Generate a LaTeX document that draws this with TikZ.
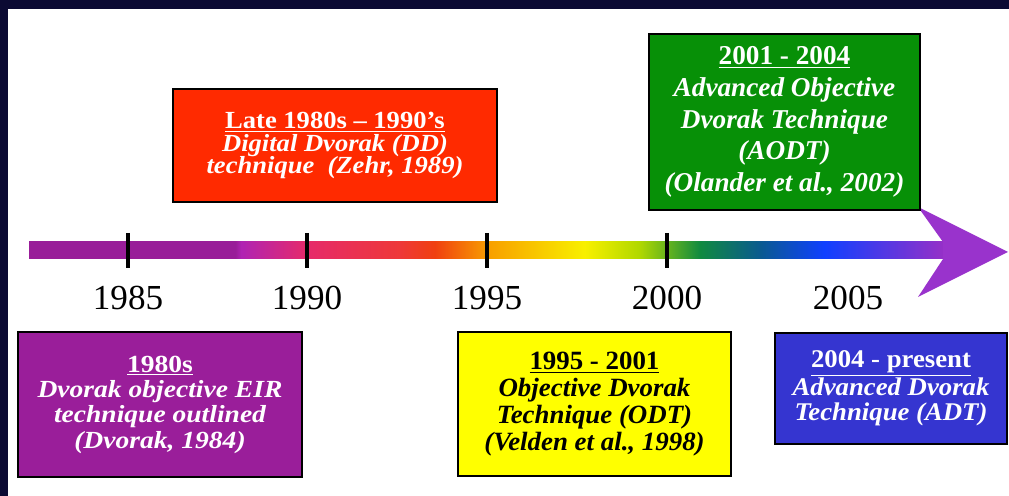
\documentclass[tikz,border=0pt]{standalone}
\usepackage{fontspec}
\setmainfont{Liberation Serif}

\definecolor{frame}{HTML}{0B0A33}
\definecolor{eirpurple}{HTML}{9A1E9A}
\definecolor{ddred}{HTML}{FF2A00}
\definecolor{odtyellow}{HTML}{FFFF00}
\definecolor{aodtgreen}{HTML}{079007}
\definecolor{adtblue}{HTML}{3535D0}
\definecolor{headpurple}{HTML}{9933CC}

\definecolor{r1}{HTML}{991D99}
\definecolor{r2}{HTML}{B023B3}
\definecolor{r3}{HTML}{E62A6A}
\definecolor{r4}{HTML}{EE3838}
\definecolor{r5}{HTML}{F04010}
\definecolor{r6}{HTML}{F8A000}
\definecolor{r7}{HTML}{F8F000}
\definecolor{r8}{HTML}{B0D800}
\definecolor{r9}{HTML}{108A40}
\definecolor{r10}{HTML}{0A5A90}
\definecolor{r11}{HTML}{1040FF}
\definecolor{r12}{HTML}{9530C8}

\pgfdeclarehorizontalshading{rainbow}{100bp}{color(0bp)=(r1); color(25bp)=(r1);
	color(36.3bp)=(r1); color(36.6bp)=(r2); color(40.2bp)=(r3); color(45.3bp)=(r4);
	color(47.2bp)=(r5); color(50.2bp)=(r6); color(55.4bp)=(r7); color(58.4bp)=(r8);
	color(61.7bp)=(r9); color(65bp)=(r10); color(68.5bp)=(r11); color(75bp)=(r12);
	color(100bp)=(r12)}

\begin{document}
\begin{tikzpicture}[
		x = 0.02cm, y = -0.02cm,
		bx/.style  = {draw=black, line width=1.5pt, align=center, inner sep=0pt,
			font=\bfseries\itshape\fontsize{14}{14.2}\selectfont},
		wide/.style args = {#1/#2/#3}{font=\bfseries\itshape\fontsize{#1}{#2}\selectfont\addfontfeatures{FakeStretch=#3}},
		yr/.style  = {font=\fontsize{20}{24}\selectfont},
		tk/.style  = {line width=2.2pt}
		]
		\useasboundingbox (0,0) rectangle (1009,496);
		\fill[frame] (0,0) rectangle (1009,496);
		\fill[white] (8,9) rectangle (1009,496);
		
		% time line
		\coordinate (start) at (29,250);
		\coordinate (tip)   at (1008,252);
		\shade[shading=rainbow] (29,242) rectangle (943,259);
		\fill[headpurple] (943,242) -- (918,207) -- (tip) -- (918,297) -- (943,259) -- cycle;
		
		\foreach \yy/\xx in {1985/128, 1990/307, 1995/487, 2000/667} {
			\coordinate (t\yy) at (\xx,250);
			\draw[tk] (t\yy) ++(0,-17) -- ++(0,35);
		}
		\foreach \yy/\xx in {1985/128, 1990/307, 1995/487, 2000/667, 2005/848}
			\node[yr] (y\yy) at (\xx,298) {\yy};
		
		% boxes
		\node[bx, wide=14/13/1.08, fill=ddred, text=white, minimum width=6.48cm, minimum height=2.26cm]
			(dd) at (335,145.5)
			{\textup{\underline{Late 1980s -- 1990’s}}\\ Digital Dvorak (DD)\\ technique\ \ (Zehr, 1989)};
		\node[bx, wide=15.5/18/1.0, fill=aodtgreen, text=white, minimum width=5.42cm, minimum height=3.52cm]
			(aodt) at (784.5,122)
			{\textup{\underline{2001 - 2004}}\\ Advanced Objective\\ Dvorak Technique\\ (AODT)\\ (Olander et al., 2002)};
		
		\node[bx, wide=14/14.4/1.12, fill=eirpurple, text=white, minimum width=5.68cm, minimum height=2.9cm]
			(eir) at (160,404.5)
			{\textup{\underline{1980s}}\\ Dvorak objective EIR\\ technique outlined\\ (Dvorak, 1984)};
		\node[bx, wide=15/15.3/1.02, fill=odtyellow, text=black, minimum width=5.46cm, minimum height=2.88cm]
			(odt) at (594.5,404)
			{\textup{\underline{1995 - 2001}}\\ Objective Dvorak\\ Technique (ODT)\\ (Velden et al., 1998)};
		\node[bx, wide=14.5/14.2/1.05, fill=adtblue, text=white, minimum width=4.64cm, minimum height=2.22cm]
			(adt) at (891,388.5)
			{\textup{\underline{2004 - present}}\\ Advanced Dvorak\\ Technique (ADT)};
	\end{tikzpicture}
\end{document}
